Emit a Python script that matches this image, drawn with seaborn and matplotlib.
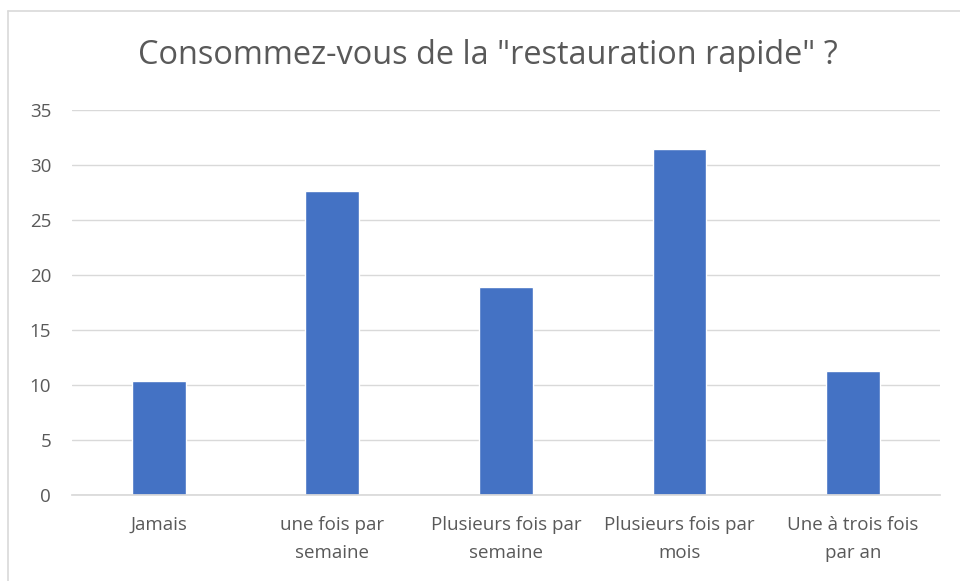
import pandas as pd
import matplotlib
matplotlib.use("Agg")
import matplotlib.pyplot as plt
import seaborn as sns
from matplotlib.lines import Line2D

categories = ["Jamais", "une fois par\nsemaine", "Plusieurs fois par\nsemaine",
              "Plusieurs fois par\nmois", "Une à trois fois\npar an"]
values = [10.4, 27.6, 18.9, 31.45, 11.3]
yticks = [0, 5, 10, 15, 20, 25, 30, 35]

sns.set_theme(style="white")
plt.rcParams["font.family"] = ["Open Sans", "DejaVu Sans"]

df = pd.DataFrame({"cat": categories, "val": values})

fig = plt.figure(figsize=(9.6, 5.81), dpi=100)
ax = fig.add_axes([0.075, 0.148, 0.904, 0.663])

sns.barplot(data=df, x="cat", y="val", color="#4472C4", saturation=1,
            width=0.31, ax=ax)

ax.set_ylim(0, 35)
ax.set_yticks(yticks)
ax.set_xlim(-0.5, len(categories) - 0.5)
ax.yaxis.grid(True, color="#D9D9D9", linewidth=1)
ax.set_axisbelow(True)
for s in ["top", "right", "left"]:
    ax.spines[s].set_visible(False)
ax.spines["bottom"].set_color("#D9D9D9")
ax.set_xlabel("")
ax.set_ylabel("")
ax.tick_params(axis="both", length=0, labelsize=13.5, colors="#595959")
ax.tick_params(axis="x", pad=15)
ax.tick_params(axis="y", pad=15)
for lab in ax.get_xticklabels():
    lab.set_linespacing(1.75)

fig.text(0.508, 0.904, 'Consommez-vous de la "restauration rapide" ?',
         ha="center", va="center", fontsize=23.4, color="#595959")

# chart border
fig.add_artist(Line2D([8/960, 1], [1 - 11/581, 1 - 11/581], color="#D9D9D9", linewidth=1.2))
fig.add_artist(Line2D([8/960, 8/960], [0, 1 - 11/581], color="#D9D9D9", linewidth=1.2))

fig.savefig("out.png", dpi=100)
